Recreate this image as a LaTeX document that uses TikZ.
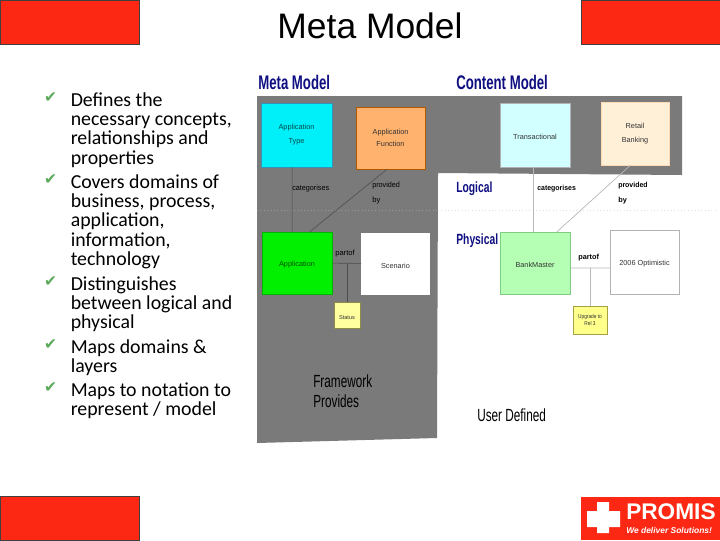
\documentclass[tikz,border=0pt]{standalone}
\usepackage{xcolor}
\usepackage{fontspec}
\setmainfont{Liberation Sans}
\newfontfamily\bodyfont{Carlito}
\newfontfamily\checkfont{DejaVu Sans}
\definecolor{promisred}{RGB}{252,40,20}
\definecolor{panelgrey}{RGB}{122,122,122}
\definecolor{headblue}{RGB}{15,15,130}
\newcommand{\narrowtxt}[2]{\scalebox{#1}[1]{#2}}
\tikzset{
	redbar/.style={draw=black!75,fill=promisred,line width=0.5pt},
	box/.style={draw=#1,line width=0.4pt,inner sep=0pt,font=\fontsize{5.2}{8}\selectfont,align=center,text=black!80,execute at begin node={\rule{0pt}{6.6pt}}},
	heading/.style={anchor=west,inner sep=0pt,text=headblue,font=\bfseries\fontsize{14}{14}\selectfont},
	subheading/.style={heading,font=\bfseries\fontsize{10.5}{10}\selectfont},
	rel/.style={anchor=west,inner sep=0pt,font=\fontsize{5.4}{8}\selectfont},
	relbold/.style={rel,font=\bfseries\fontsize{5.2}{8}\selectfont},
	bigtxt/.style={anchor=west,inner sep=0pt,font=\fontsize{12.5}{14}\selectfont},
	conndark/.style={draw=black!70,line width=0.4pt},
	connlight/.style={draw=black!28,line width=0.5pt}
}
\begin{document}
\begin{tikzpicture}[x=0.025cm,y=-0.025cm]
	\useasboundingbox (0,0) rectangle (720,540);
	% red bars
	\draw[redbar] (0,0) rectangle (139,44);
	\draw[redbar] (581,0) rectangle (720,44);
	\draw[redbar] (0,496) rectangle (139,540);
	\fill[promisred] (581,497) rectangle (720,540);
	% title
	\node[inner sep=0pt,font=\fontsize{25.2}{25}\selectfont] (title) at (370,26) {Meta Model};
	% list on the left
	\foreach \i/\y/\txt in {
		1/92/{Defines the\\necessary concepts,\\relationships and\\properties},
		2/174/{Covers domains of\\business, process,\\application,\\information,\\technology},
		3/276/{Distinguishes\\between logical and\\physical},
		4/339/{Maps domains \&\\layers},
		5/382/{Maps to notation to\\represent / model}}
	{
		\node[anchor=north west,inner sep=0pt,align=left,font=\bodyfont\fontsize{14.1}{13.8}\selectfont] (item\i) at (70.5,\y) {\txt};
		\node[inner sep=0pt,text={rgb,255:red,90;green,170;blue,90},font=\checkfont\fontsize{11}{11}\selectfont] (check\i) at (50.5,\y+6) {✔};
	}
	% grey panel
	\fill[panelgrey] (257,96) -- (682,96) -- (682,175) -- (438,173) -- (437,438) -- (257,443) -- cycle;
	\draw[dotted,black!40,line width=0.4pt] (257,210) -- (437,210);
	\draw[dotted,black!12,line width=0.4pt] (438,210) -- (715,210);
	% headings
	\node[heading] (metahead) at (258,82.5) {\narrowtxt{.67}{Meta Model}};
	\node[heading] (contenthead) at (456,82.5) {\narrowtxt{.67}{Content Model}};
	\node[subheading] (logical) at (456,188.5) {\narrowtxt{.7}{Logical}};
	\node[subheading] (physical) at (456,240.5) {\narrowtxt{.7}{Physical}};
	% meta model boxes
	\node[box=cyan!70!black,fill={rgb,255:red,0;green,240;blue,250},minimum width=1.77cm,minimum height=1.6cm,text={rgb,255:red,0;green,70;blue,70}] (apptype) at (296.5,135) {Application\\[2pt]Type};
	\node[box=orange!70!black,fill={rgb,255:red,255;green,178;blue,110},minimum width=1.72cm,minimum height=1.55cm] (appfunc) at (390.5,138) {Application\\[1pt]Function};
	\node[box=green!70!black,fill={rgb,255:red,0;green,240;blue,0},minimum width=1.76cm,minimum height=1.55cm,text={rgb,255:red,0;green,80;blue,0}] (application) at (297,263) {Application};
	\node[box=white,fill=white,minimum width=1.71cm,minimum height=1.53cm] (scenario) at (395.5,263.5) {Scenario};
	\node[box=yellow!50!black,fill={rgb,255:red,255;green,255;blue,160},minimum width=0.65cm,minimum height=0.65cm,font=\fontsize{4}{5}\selectfont] (status) at (347,315) {Status};
	% content model boxes
	\node[box=black!30,fill={rgb,255:red,210;green,255;blue,255},minimum width=1.75cm,minimum height=1.6cm] (transact) at (535,135) {Transactional};
	\node[box=orange!30,fill={rgb,255:red,255;green,240;blue,215},minimum width=1.7cm,minimum height=1.58cm] (retail) at (635,133.5) {Retail\\[2pt]Banking};
	\node[box=green!60!black!50,fill={rgb,255:red,180;green,255;blue,180},minimum width=1.76cm,minimum height=1.55cm] (bankmaster) at (535,263) {BankMaster};
	\node[box=black!30,fill=white,minimum width=1.72cm,minimum height=1.6cm] (optimistic) at (644.5,262) {2006 Optimistic};
	\node[box=yellow!60!black,fill={rgb,255:red,255;green,255;blue,140},minimum width=0.86cm,minimum height=0.7cm,font=\fontsize{4}{4.6}\selectfont] (upgrade) at (590,320) {\narrowtxt{.85}{Upgrade to}\\\narrowtxt{.85}{Rel 3}};
	% connectors on the grey panel
	\draw[conndark] ([xshift=-0.11cm]apptype.south) -- ([xshift=-0.12cm]application.north);
	\draw[conndark] ([xshift=-0.09cm]appfunc.south) -- ([xshift=0.32cm]application.north);
	\draw[conndark] (application) -- (scenario);
	\coordinate (metajoin) at (347,264);
	\draw[conndark] (metajoin) -- (status);
	% connectors on the white part
	\draw[connlight] ([xshift=-0.05cm]transact.south) -- ([xshift=-0.05cm]bankmaster.north);
	\draw[connlight] ([xshift=-0.12cm]retail.south) -- ([xshift=0.55cm]bankmaster.north);
	\draw[connlight] ([yshift=-0.125cm]bankmaster.east) -- ([yshift=-0.15cm]optimistic.west);
	\coordinate (contentjoin) at (590,268);
	\draw[connlight] (contentjoin) -- (upgrade);
	% relation labels
	\node[rel] (catmeta) at (292,189) {\narrowtxt{.95}{categorises}};
	\node[rel] (provmeta) at (372,186) {\narrowtxt{.95}{provided}};
	\node[rel] (bymeta) at (372,201) {by};
	\node[rel] (partmeta) at (335,254) {partof};
	\node[relbold] (catcontent) at (537,189) {\narrowtxt{.95}{categorises}};
	\node[relbold] (provcontent) at (618,186) {\narrowtxt{.95}{provided}};
	\node[relbold] (bycontent) at (618,201) {by};
	\node[relbold] (partcontent) at (578,258) {partof};
	% big captions
	\node[bigtxt] (framework) at (313,381) {\narrowtxt{.67}{Framework}};
	\node[bigtxt] (provides) at (313,401) {\narrowtxt{.67}{Provides}};
	\node[bigtxt] (userdef) at (477,415) {\narrowtxt{.67}{User Defined}};
	% logo
	\fill[white] (587,511) -- (597,511) -- (597,502) -- (609,502) -- (609,511) -- (620,511) -- (620,527) -- (609,527) -- (609,533) -- (597,533) -- (597,527) -- (587,527) -- cycle;
	\node[anchor=west,inner sep=0pt,text=white,font=\bfseries\fontsize{16.1}{16}\selectfont] (promis) at (626,511.5) {PROMIS};
	\node[anchor=west,inner sep=0pt,text=white,font=\bfseries\itshape\fontsize{6}{7}\selectfont] (slogan) at (626,530.5) {We deliver Solutions!};
\end{tikzpicture}
\end{document}
